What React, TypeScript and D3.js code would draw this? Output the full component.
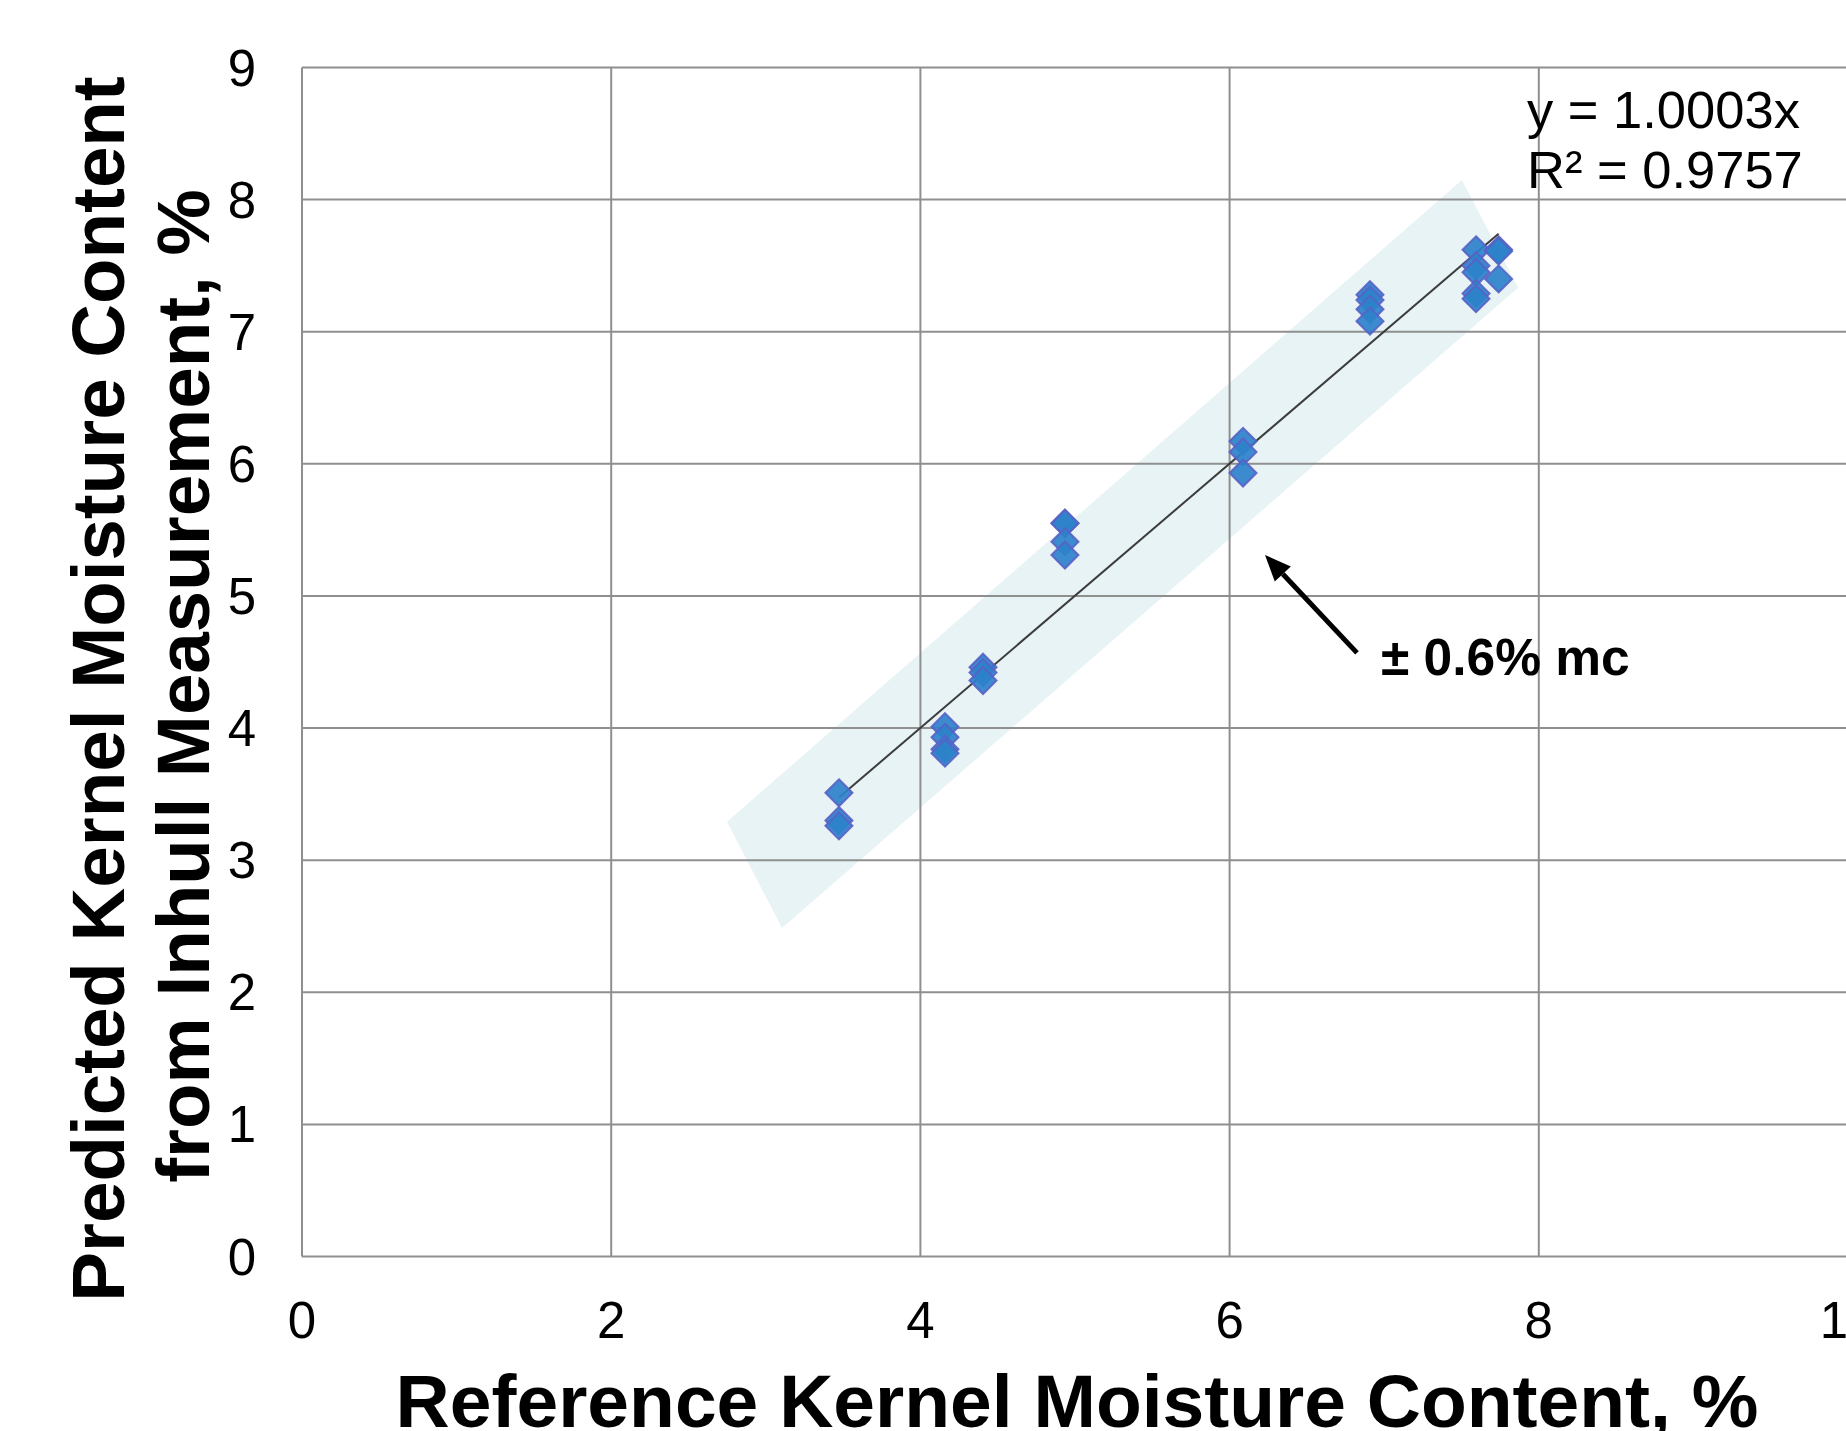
import React, { useEffect } from "react";
import * as d3 from "d3";

// ---- data ----
const xTickValues = [0, 2, 4, 6, 8, 10];
const yTickValues = [0, 1, 2, 3, 4, 5, 6, 7, 8, 9];

const referenceMC = [
  3.473, 3.473, 3.473,
  4.159, 4.159, 4.159, 4.159,
  4.405, 4.405, 4.405,
  4.935, 4.935, 4.935, 4.935,
  6.087, 6.087, 6.087,
  6.908, 6.908, 6.908, 6.908,
  7.594, 7.594, 7.594, 7.594, 7.594,
  7.74, 7.74, 7.74,
];
const predictedMC = [
  3.51, 3.3, 3.26,
  4.01, 3.93, 3.84, 3.81,
  4.46, 4.42, 4.36,
  5.55, 5.55, 5.41, 5.31,
  6.17, 6.09, 5.93,
  7.28, 7.24, 7.17, 7.08,
  7.62, 7.5, 7.45, 7.29, 7.25,
  7.62, 7.61, 7.4,
];

const trendSlope = 1.0003;
const trendRange = [3.473, 7.74];

// tolerance band (±0.6% mc) polygon corners in data units
const bandX = [2.749, 3.105, 7.866, 7.503];
const bandY = [3.29, 2.487, 7.332, 8.149];

// arrow annotation (data units)
const arrowFrom = [6.824, 4.569];
const arrowTo = [6.229, 5.31];

const equationLines = ["y = 1.0003x", "R² = 0.9757"];
const bandLabel = "± 0.6% mc";
const xTitle = "Reference Kernel Moisture Content, %";
const yTitleLines = ["Predicted Kernel Moisture Content", "from Inhull Measurement, %"];

const W = 1846;
const H = 1431;
const FONT = '"Liberation Sans", Arial, Helvetica, sans-serif';

export default function App() {
  useEffect(() => {
    document.body.style.margin = "0";
  }, []);

  const x = d3.scaleLinear().domain([0, 10]).range([302, 1848]);
  const y = d3.scaleLinear().domain([0, 9]).range([1256.5, 67.5]);

  const band = bandX.map((bx, i) => [x(bx), y(bandY[i])] as [number, number]);
  const bandPath = d3.line()(band) + "Z";

  const trend = d3.line<number>()
    .x((d) => x(d))
    .y((d) => y(d * trendSlope))(trendRange);

  const r = 13.5;
  const diamond = `M0,${-r}L${r},0L0,${r}L${-r},0Z`;

  const ax0 = x(arrowFrom[0]);
  const ay0 = y(arrowFrom[1]);
  const ax1 = x(arrowTo[0]);
  const ay1 = y(arrowTo[1]);
  const ang = Math.atan2(ay1 - ay0, ax1 - ax0);
  const headLen = 26;
  const headW = 11;
  const bx = ax1 - headLen * Math.cos(ang);
  const by = ay1 - headLen * Math.sin(ang);
  const px = -Math.sin(ang);
  const py = Math.cos(ang);
  const head = `M${ax1},${ay1}L${bx + headW * px},${by + headW * py}L${bx - headW * px},${by - headW * py}Z`;

  const gridColor = "#8f8f8f";

  return (
    <svg
      width={W}
      height={H}
      style={{ position: "absolute", left: 0, top: 0, display: "block", background: "#fff" }}
      fontFamily={FONT}
    >
      <rect x={0} y={0} width={W} height={H} fill="#fff" />
      {/* band */}
      <path d={bandPath} fill="#e7f3f5" />
      {/* gridlines */}
      {yTickValues.map((t) => (
        <line key={"gy" + t} x1={x(0)} x2={x(10)} y1={y(t)} y2={y(t)} stroke={gridColor} strokeWidth={2} />
      ))}
      {xTickValues.map((t) => (
        <line key={"gx" + t} x1={x(t)} x2={x(t)} y1={y(0)} y2={y(9)} stroke={gridColor} strokeWidth={2} />
      ))}
      {/* trend line */}
      <path d={trend ?? ""} stroke="#3c3c3c" strokeWidth={2} fill="none" />
      {/* points */}
      {referenceMC.map((rx, i) => (
        <path
          key={"p" + i}
          d={diamond}
          transform={`translate(${x(rx)},${y(predictedMC[i])})`}
          fill="rgb(45,130,202)"
          fillOpacity={0.92}
          stroke="#5a60c6"
          strokeOpacity={0.9}
          strokeWidth={2}
        />
      ))}
      {/* tick labels */}
      {yTickValues.map((t) => (
        <text key={"ty" + t} x={256} y={y(t) + 18} textAnchor="end" fontSize={51} fill="#000">
          {t}
        </text>
      ))}
      {xTickValues.map((t) => (
        <text key={"tx" + t} x={x(t)} y={1338} textAnchor="middle" fontSize={51} fill="#000">
          {t}
        </text>
      ))}
      {/* equation */}
      {equationLines.map((s, i) => (
        <text key={"eq" + i} x={1527} y={128 + i * 60} fontSize={52.5} fill="#000">
          {s}
        </text>
      ))}
      {/* arrow annotation */}
      <line x1={ax0} y1={ay0} x2={bx} y2={by} stroke="#000" strokeWidth={5} />
      <path d={head} fill="#000" />
      <text x={1381} y={675} fontSize={51.5} fontWeight="bold" fill="#000">
        {bandLabel}
      </text>
      {/* axis titles */}
      <text x={1077} y={1427} textAnchor="middle" fontSize={75} fontWeight="bold" fill="#000">
        {xTitle}
      </text>
      <text transform="translate(124,689) rotate(-90)" textAnchor="middle" fontSize={74.5} fontWeight="bold" fill="#000">
        {yTitleLines[0]}
      </text>
      <text transform="translate(209,686) rotate(-90)" textAnchor="middle" fontSize={74.5} fontWeight="bold" fill="#000">
        {yTitleLines[1]}
      </text>
    </svg>
  );
}
